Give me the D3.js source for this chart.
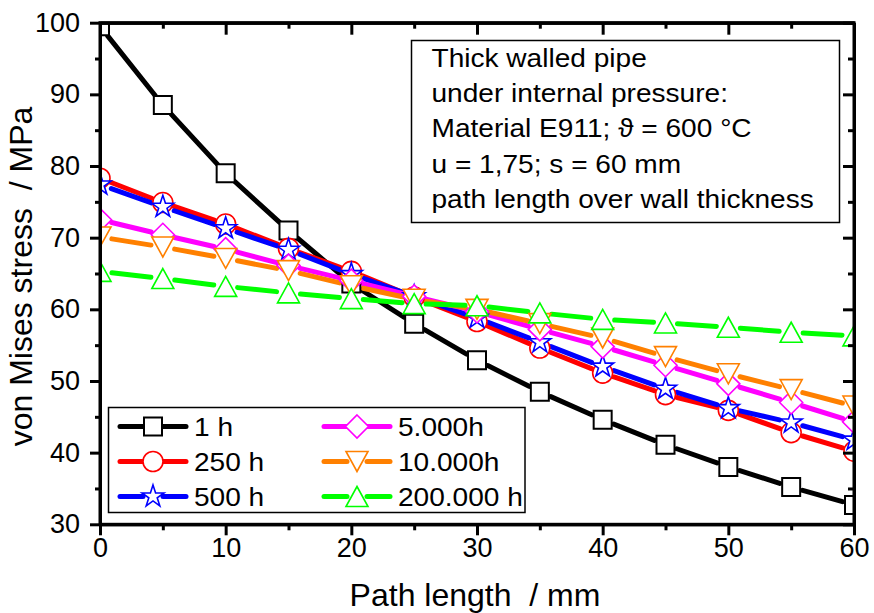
<!DOCTYPE html>
<html lang="en">
<head>
  <meta charset="UTF-8">
  <title>von Mises stress over path length</title>
  <style>
    body { margin: 0; background: #fff; }
    svg { font-family: "Liberation Sans", Arial, sans-serif; }
    .pre { white-space: pre; }
  </style>
  <script src="https://d3js.org/d3.v7.min.js"></script>
</head>
<body>
  <div id="chart"></div>
  <script>
    // data
    var pathLength = [0, 5, 10, 15, 20, 25, 30, 35, 40, 45, 50, 55, 60];
    var stress1h      = [99.5, 88.5, 79.0, 71.0, 63.6, 58.0, 52.9, 48.5, 44.6, 41.1, 38.0, 35.2, 32.7];
    var stress250h    = [78.3, 74.9, 71.9, 68.5, 65.3, 61.7, 58.3, 54.6, 51.1, 48.1, 45.9, 42.8, 40.2];
    var stress500h    = [77.4, 74.3, 71.3, 68.3, 64.9, 61.8, 58.8, 55.4, 52.0, 48.9, 46.2, 44.2, 41.8];
    var stress5000h   = [72.5, 70.4, 68.4, 66.1, 64.0, 61.8, 59.7, 57.2, 54.8, 52.2, 49.6, 47.0, 44.3];
    var stress10000h  = [70.1, 68.7, 67.1, 65.4, 63.3, 61.4, 60.0, 58.0, 56.0, 53.4, 51.0, 48.8, 46.5];
    var stress200000h = [65.3, 64.3, 63.2, 62.3, 61.5, 60.8, 60.5, 59.5, 58.6, 58.1, 57.5, 56.8, 56.3];
    var seriesNames = ['1 h', '250 h', '500 h', '5.000h', '10.000h', '200.000 h'];
    var xTicks = [0, 10, 20, 30, 40, 50, 60];
    var yTicks = [30, 40, 50, 60, 70, 80, 90, 100];
    var noteLines = [
      'Thick walled pipe',
      'under internal pressure:',
      'Material E911; \u03D1 = 600 \u00B0C',
      'u = 1,75; s = 60 mm',
      'path length over wall thickness'
    ];

    var series = [
      {name: seriesNames[0], values: stress1h,      color: '#000000', shape: 'square'},
      {name: seriesNames[1], values: stress250h,    color: '#ff0000', shape: 'circle'},
      {name: seriesNames[2], values: stress500h,    color: '#0000ff', shape: 'star'},
      {name: seriesNames[3], values: stress5000h,   color: '#ff00ff', shape: 'diamond'},
      {name: seriesNames[4], values: stress10000h,  color: '#ff8000', shape: 'tridown'},
      {name: seriesNames[5], values: stress200000h, color: '#00ff00', shape: 'triup'}
    ];

    var W = 874, H = 613;
    var margin = {left: 100, right: 20, top: 22.7, bottom: 88.7};
    var width = W - margin.left - margin.right;
    var height = H - margin.top - margin.bottom;

    var x = d3.scaleLinear().domain([0, 60]).range([0, width]);
    var y = d3.scaleLinear().domain([30, 100]).range([height, 0]);

    var svg = d3.select('#chart').append('svg').attr('width', W).attr('height', H);
    var g = svg.append('g').attr('transform', 'translate(' + margin.left + ',' + margin.top + ')');

    svg.append('defs').append('clipPath').attr('id', 'plotclip')
      .append('rect').attr('x', 0).attr('y', 0).attr('width', width).attr('height', height);

    function markerPath(shape) {
      switch (shape) {
        case 'square': return 'M-9,-9H9V9H-9Z';
        case 'circle': return d3.symbol(d3.symbolCircle, Math.PI * 100)();
        case 'star': return d3.symbol(d3.symbolStar, 150)();
        case 'diamond': return 'M0,-11.5L11.5,0L0,11.5L-11.5,0Z';
        case 'tridown': return 'M-11,-10L11,-10L0,10Z';
        case 'triup': return 'M0,-10L11,10L-11,10Z';
      }
    }

    // line segments with a gap around each symbol
    function gapSegments(pts, gap) {
      var segs = [];
      for (var i = 0; i < pts.length - 1; i++) {
        var a = pts[i], b = pts[i + 1];
        var dx = b[0] - a[0], dy = b[1] - a[1];
        var len = Math.sqrt(dx * dx + dy * dy);
        if (len <= 2 * gap) continue;
        var ux = dx / len, uy = dy / len;
        segs.push([a[0] + ux * gap, a[1] + uy * gap, b[0] - ux * gap, b[1] - uy * gap]);
      }
      return segs;
    }

    var plot = g.append('g').attr('clip-path', 'url(#plotclip)');

    series.forEach(function(s) {
      var pts = pathLength.map(function(d, i) { return [x(d), y(s.values[i])]; });
      plot.append('g').selectAll('line').data(gapSegments(pts, 12)).enter().append('line')
        .attr('x1', function(d) { return d[0]; })
        .attr('y1', function(d) { return d[1]; })
        .attr('x2', function(d) { return d[2]; })
        .attr('y2', function(d) { return d[3]; })
        .attr('stroke', s.color)
        .attr('stroke-width', 5)
        .attr('stroke-linecap', 'round');
    });

    series.forEach(function(s) {
      plot.append('g').selectAll('path').data(s.values).enter().append('path')
        .attr('d', markerPath(s.shape))
        .attr('transform', function(d, i) { return 'translate(' + x(pathLength[i]) + ',' + y(d) + ')'; })
        .attr('fill', '#fff')
        .attr('stroke', s.color)
        .attr('stroke-width', s.shape === 'square' ? 2 : 1.6);
    });

    // axes: bottom/left ticks out, top/right ticks in (all pointing down/left)
    var xMinor = d3.range(5, 60, 10), yMinor = d3.range(35, 100, 10);
    function styleAxis(sel) {
      sel.selectAll('path').attr('stroke-width', 3);
      sel.selectAll('line').attr('stroke-width', 3);
      sel.selectAll('text').style('font-size', '27px').attr('fill', '#000');
    }

    g.append('g').attr('transform', 'translate(0,' + height + ')')
      .call(d3.axisBottom(x).tickValues(xTicks).tickSize(11).tickSizeOuter(0).tickPadding(3))
      .call(styleAxis);
    g.append('g').attr('transform', 'translate(0,' + height + ')')
      .call(d3.axisBottom(x).tickValues(xMinor).tickSize(6).tickSizeOuter(0).tickFormat(''))
      .call(styleAxis);
    g.append('g')
      .call(d3.axisLeft(y).tickValues(yTicks).tickSize(10).tickSizeOuter(0).tickPadding(10))
      .call(styleAxis);
    g.append('g')
      .call(d3.axisLeft(y).tickValues(yMinor).tickSize(5).tickSizeOuter(0).tickFormat(''))
      .call(styleAxis);
    g.append('g')
      .call(d3.axisTop(x).tickValues(xTicks).tickSize(-12).tickSizeOuter(0).tickFormat(''))
      .call(styleAxis);
    g.append('g')
      .call(d3.axisTop(x).tickValues(xMinor).tickSize(-6).tickSizeOuter(0).tickFormat(''))
      .call(styleAxis);
    g.append('g').attr('transform', 'translate(' + width + ',0)')
      .call(d3.axisRight(y).tickValues(yTicks).tickSize(-11).tickSizeOuter(0).tickFormat(''))
      .call(styleAxis);
    g.append('g').attr('transform', 'translate(' + width + ',0)')
      .call(d3.axisRight(y).tickValues(yMinor).tickSize(-6).tickSizeOuter(0).tickFormat(''))
      .call(styleAxis);
    g.append('rect').attr('width', width).attr('height', height)
      .attr('fill', 'none').attr('stroke', '#000').attr('stroke-width', 3);

    // axis titles
    svg.append('text').attr('class', 'pre')
      .attr('x', margin.left + width / 2 - 2).attr('y', 606)
      .attr('text-anchor', 'middle').style('font-size', '32px')
      .text('Path length  / mm');
    svg.append('text').attr('class', 'pre')
      .attr('transform', 'translate(32,' + (margin.top + height / 2 + 3) + ') rotate(-90)')
      .attr('text-anchor', 'middle').style('font-size', '32px')
      .text('von Mises stress  / MPa');

    // annotation box
    var note = svg.append('g').attr('transform', 'translate(411.5,40.5)');
    note.append('rect').attr('width', 428).attr('height', 182)
      .attr('fill', '#fff').attr('stroke', '#000').attr('stroke-width', 1.5);
    note.append('g').attr('transform', 'translate(20,26) scale(1.08,1)')
      .selectAll('text').data(noteLines).enter().append('text')
      .attr('x', 0).attr('y', function(d, i) { return i * 35.4; })
      .style('font-size', '26px')
      .text(function(d) { return d; });

    // legend
    var legend = svg.append('g').attr('transform', 'translate(108.5,407.5)');
    legend.append('rect').attr('width', 416.5).attr('height', 105)
      .attr('fill', '#fff').attr('stroke', '#000').attr('stroke-width', 1.5);
    var item = legend.selectAll('g.item').data(series).enter().append('g')
      .attr('class', 'item')
      .attr('transform', function(d, i) {
        return 'translate(' + (i < 3 ? 11.5 : 215.5) + ',' + (19 + (i % 3) * 35) + ')';
      });
    item.append('line').attr('x1', 0).attr('x2', 23).attr('y1', 0).attr('y2', 0)
      .attr('stroke', function(d) { return d.color; }).attr('stroke-width', 5).attr('stroke-linecap', 'round');
    item.append('line').attr('x1', 43).attr('x2', 66).attr('y1', 0).attr('y2', 0)
      .attr('stroke', function(d) { return d.color; }).attr('stroke-width', 5).attr('stroke-linecap', 'round');
    item.append('path')
      .attr('d', function(d) { return markerPath(d.shape); })
      .attr('transform', 'translate(33,0)')
      .attr('fill', '#fff')
      .attr('stroke', function(d) { return d.color; })
      .attr('stroke-width', function(d) { return d.shape === 'square' ? 2 : 1.6; });
    item.append('text').attr('x', 74).attr('y', 9.5)
      .attr('transform', 'scale(1.0,1)')
      .style('font-size', '26px')
      .text(function(d) { return d.name; })
      .each(function() { d3.select(this).attr('textLength', null); });
    item.selectAll('text').attr('transform', function() {
      return 'translate(74,0) scale(1.08,1) translate(-74,0)';
    });
  </script>
</body>
</html>
